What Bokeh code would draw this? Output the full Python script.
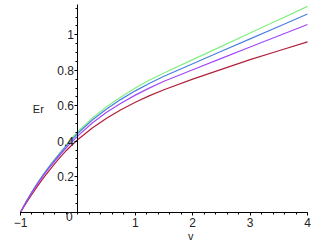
from bokeh.plotting import figure
from bokeh.models import FixedTicker, Label
from bokeh.embed import file_html
from bokeh.resources import INLINE

# data
v = [-1, -0.9, -0.8, -0.7, -0.6, -0.5, -0.4, -0.3, -0.2, -0.1, 0,
     0.25, 0.5, 0.75, 1, 1.25, 1.5, 2, 2.5, 3, 3.5, 4]
er_green = [0, 0.06, 0.115, 0.165, 0.215, 0.26, 0.30, 0.34, 0.38, 0.42, 0.455,
            0.53, 0.595, 0.65, 0.70, 0.745, 0.785, 0.86, 0.935, 1.01, 1.085, 1.16]
er_blue = [0, 0.06, 0.115, 0.165, 0.212, 0.256, 0.297, 0.336, 0.374, 0.41, 0.445,
           0.52, 0.582, 0.636, 0.684, 0.727, 0.766, 0.837, 0.907, 0.977, 1.047, 1.117]
er_purple = [0, 0.058, 0.112, 0.162, 0.208, 0.25, 0.29, 0.328, 0.364, 0.398, 0.43,
             0.503, 0.563, 0.614, 0.66, 0.701, 0.738, 0.803, 0.867, 0.931, 0.995, 1.058]
er_red = [0, 0.052, 0.101, 0.148, 0.193, 0.235, 0.275, 0.313, 0.348, 0.38, 0.41,
          0.475, 0.53, 0.578, 0.62, 0.657, 0.69, 0.75, 0.805, 0.86, 0.91, 0.96]

x_ticks = [-1, 1, 2, 3, 4]
y_ticks = [0.2, 0.4, 0.6, 0.8, 1]
y_tick_labels = ["0.2", "0.4", "0.6", "0.8", "1"]
origin_label = "0"
x_title = "v"
y_title = "Er"

FONT = "Liberation Sans"
TXT = "#222222"

W, H = 320, 242
# pixel anchors of the reference axes
X0_PX, X1_PX = 20.0, 307.0     # v = -1, v = 4
Y0_PX, Y1_PX = 211.7, 34.3     # Er = 0, Er = 1
sx = (X1_PX - X0_PX) / 5.0
sy = Y0_PX - Y1_PX
x_range = (-1 - X0_PX / sx, 4 + (W - X1_PX) / sx)
y_range = (-(H - Y0_PX) / sy, Y0_PX / sy)

p = figure(width=W, height=H, x_range=x_range, y_range=y_range,
           output_backend="svg", toolbar_location=None,
           min_border_left=0, min_border_right=0, min_border_top=0,
           min_border_bottom=0)
p.grid.visible = False
p.outline_line_color = None
p.background_fill_color = "white"

p.line(v, er_green, line_color="#80f080", line_width=1.2)
p.line(v, er_blue, line_color="#4a7fe0", line_width=1.2)
p.line(v, er_red, line_color="#b0203c", line_width=1.2)
p.line(v, er_purple, line_color="#a048f8", line_width=1.2)

xa = p.xaxis[0]
xa.fixed_location = 0
xa.bounds = (-1, 4)
xa.ticker = FixedTicker(ticks=x_ticks,
                        minor_ticks=[round(-1 + 0.2 * i, 2) for i in range(26)])
ya = p.yaxis[0]
ya.fixed_location = 0
ya.bounds = (0, 1.17)
ya.ticker = FixedTicker(ticks=y_ticks,
                        minor_ticks=[round(0.05 * i, 2) for i in range(24)])
ya.major_label_overrides = dict(zip(y_ticks, y_tick_labels))

for ax in (xa, ya):
    ax.axis_line_color = "black"
    ax.axis_line_width = 1
    ax.major_tick_line_color = "black"
    ax.minor_tick_line_color = "black"
    ax.major_tick_out = 3
    ax.major_tick_in = 0
    ax.minor_tick_out = 2
    ax.minor_tick_in = 0
    ax.major_label_text_font = FONT
    ax.major_label_text_font_size = "12px"
    ax.major_label_text_color = TXT
xa.major_label_standoff = 3
ya.major_label_standoff = 1

ya.axis_label = y_title
ya.axis_label_orientation = "horizontal"
ya.axis_label_text_font = FONT
ya.axis_label_text_font_size = "11px"
ya.axis_label_text_font_style = "normal"
ya.axis_label_text_color = TXT
ya.axis_label_standoff = 10

p.add_layout(Label(x=0, y=0, x_offset=-8.5, y_offset=-4.5, text=origin_label,
                   text_align="center", text_baseline="middle",
                   text_font=FONT, text_font_size="12px", text_color=TXT))
p.add_layout(Label(x=2, y=0, x_offset=-2, y_offset=-23.5, text=x_title,
                   text_align="center", text_baseline="middle",
                   text_font=FONT, text_font_size="11px", text_color=TXT))

open("out.html", "w").write(file_html(p, INLINE))
